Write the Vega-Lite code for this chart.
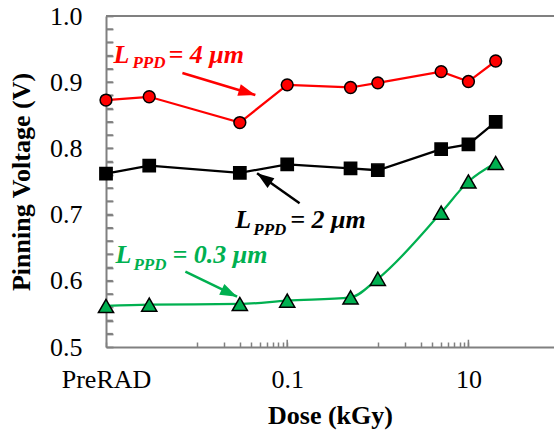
{
  "$schema": "https://vega.github.io/schema/vega-lite/v6.json",
  "width": 448,
  "height": 331,
  "autosize": {"type": "none"},
  "padding": {"left": 106, "top": 16, "right": 0, "bottom": 87},
  "background": "white",
  "config": {
    "view": {"stroke": null},
    "font": "Liberation Serif",
    "axis": {
      "grid": false,
      "labelFlush": false,
      "labelOverlap": false,
      "labelFont": "Liberation Serif",
      "labelFontSize": 26,
      "labelColor": "black",
      "tickColor": "#808080",
      "domainColor": "#808080",
      "domainWidth": 2,
      "titleFont": "Liberation Serif",
      "titleFontSize": 26,
      "titleFontWeight": "bold",
      "titleColor": "black",
      "tickCount": 100
    }
  },
  "datasets": {
    "series": [
      {"dose": 0.001, "v": 0.873, "series": "4"},
      {"dose": 0.003, "v": 0.878, "series": "4"},
      {"dose": 0.03, "v": 0.839, "series": "4"},
      {"dose": 0.1, "v": 0.896, "series": "4"},
      {"dose": 0.5, "v": 0.892, "series": "4"},
      {"dose": 1, "v": 0.899, "series": "4"},
      {"dose": 5, "v": 0.916, "series": "4"},
      {"dose": 10, "v": 0.901, "series": "4"},
      {"dose": 20, "v": 0.932, "series": "4"},
      {"dose": 0.001, "v": 0.762, "series": "2"},
      {"dose": 0.003, "v": 0.774, "series": "2"},
      {"dose": 0.03, "v": 0.763, "series": "2"},
      {"dose": 0.1, "v": 0.776, "series": "2"},
      {"dose": 0.5, "v": 0.770, "series": "2"},
      {"dose": 1, "v": 0.767, "series": "2"},
      {"dose": 5, "v": 0.799, "series": "2"},
      {"dose": 10, "v": 0.806, "series": "2"},
      {"dose": 20, "v": 0.840, "series": "2"},
      {"dose": 0.001, "v": 0.562, "series": "0.3"},
      {"dose": 0.003, "v": 0.564, "series": "0.3"},
      {"dose": 0.03, "v": 0.565, "series": "0.3"},
      {"dose": 0.1, "v": 0.570, "series": "0.3"},
      {"dose": 0.5, "v": 0.575, "series": "0.3"},
      {"dose": 1, "v": 0.603, "series": "0.3"},
      {"dose": 5, "v": 0.703, "series": "0.3"},
      {"dose": 10, "v": 0.750, "series": "0.3"},
      {"dose": 20, "v": 0.778, "series": "0.3"}
    ],
    "labels": [
      {"series": "4", "part": "main", "text": "L", "dose": 0.00121, "v": 0.929},
      {"series": "4", "part": "sub", "text": "PPD", "dose": 0.00196, "v": 0.9215},
      {"series": "4", "part": "main", "text": "= 4 μm", "dose": 0.00489, "v": 0.929},
      {"series": "2", "part": "main", "text": "L", "dose": 0.0267, "v": 0.680},
      {"series": "2", "part": "sub", "text": "PPD", "dose": 0.0423, "v": 0.669},
      {"series": "2", "part": "main", "text": "= 2 μm", "dose": 0.108, "v": 0.680},
      {"series": "0.3", "part": "main", "text": "L", "dose": 0.00127, "v": 0.627},
      {"series": "0.3", "part": "sub", "text": "PPD", "dose": 0.00201, "v": 0.616},
      {"series": "0.3", "part": "main", "text": "= 0.3 μm", "dose": 0.00541, "v": 0.627}
    ],
    "arrows": [
      {"series": "4", "dose": 0.00697, "v": 0.9139, "dose2": 0.0445, "v2": 0.8807},
      {"series": "2", "dose": 0.137, "v": 0.717, "dose2": 0.0465, "v2": 0.7624},
      {"series": "0.3", "dose": 0.00752, "v": 0.6138, "dose2": 0.02797, "v2": 0.576}
    ],
    "majorTicks": [
      {"dose": 0.1},
      {"dose": 10}
    ],
    "yTicks": [
      {"v": 0.52}, {"v": 0.54}, {"v": 0.56}, {"v": 0.58}, {"v": 0.6},
      {"v": 0.62}, {"v": 0.64}, {"v": 0.66}, {"v": 0.68}, {"v": 0.7},
      {"v": 0.72}, {"v": 0.74}, {"v": 0.76}, {"v": 0.78}, {"v": 0.8},
      {"v": 0.82}, {"v": 0.84}, {"v": 0.86}, {"v": 0.88}, {"v": 0.9},
      {"v": 0.92}, {"v": 0.94}, {"v": 0.96}, {"v": 0.98}
    ]
  },
  "layer": [
    {
      "data": {"name": "series"},
      "transform": [{"filter": "datum.series != '0.3'"}],
      "mark": {"type": "line", "strokeWidth": 2.25},
      "encoding": {
        "x": {
          "field": "dose", "type": "quantitative",
          "scale": {"type": "log", "domain": [0.001, 88], "nice": false},
          "axis": {
            "title": "Dose (kGy)",
            "tickCount": 100,
            "values": [0.001, 0.01, 0.02, 0.03, 0.04, 0.05, 0.06, 0.07, 0.08, 0.09, 0.1, 1, 2, 3, 4, 5, 6, 7, 8, 9, 10],
            "labelExpr": "datum.value == 0.001 ? 'PreRAD' : datum.value == 0.1 ? '0.1' : datum.value == 10 ? '10' : ''",
            "ticks": true,
            "tickSize": -5,
            "tickWidth": 1.5,
            "labelPadding": 24,
            "titlePadding": 10
          }
        },
        "y": {
          "field": "v", "type": "quantitative",
          "scale": {"domain": [0.5, 1.0], "zero": false, "nice": false},
          "axis": {
            "title": "Pinning Voltage  (V)",
            "tickCount": 100,
            "values": [0.5, 0.52, 0.54, 0.56, 0.58, 0.6, 0.62, 0.64, 0.66, 0.68, 0.7, 0.72, 0.74, 0.76, 0.78, 0.8, 0.82, 0.84, 0.86, 0.88, 0.9, 0.92, 0.94, 0.96, 0.98, 1.0],
            "labelExpr": "(datum.value == 0.5 || datum.value == 0.6 || datum.value == 0.7 || datum.value == 0.8 || datum.value == 0.9 || datum.value == 1) ? format(datum.value, '.1f') : ''",
            "ticks": true,
            "tickSize": -7,
            "tickWidth": 1.75,
            "labelPadding": 31,
            "titlePadding": 15
          }
        },
        "color": {
          "field": "series", "type": "nominal",
          "scale": {"domain": ["4", "2", "0.3"], "range": ["#ff0000", "#000000", "#00b050"]},
          "legend": null
        }
      }
    },
    {
      "data": {"name": "yTicks"},
      "mark": {"type": "rule", "color": "#808080", "strokeWidth": 1.75},
      "encoding": {
        "y": {"field": "v", "type": "quantitative"},
        "x": {"datum": 0.001, "type": "quantitative"},
        "x2": {"datum": 0.00119}
      }
    },
    {
      "data": {"name": "majorTicks"},
      "mark": {"type": "rule", "color": "#808080", "strokeWidth": 1.5},
      "encoding": {
        "x": {"field": "dose", "type": "quantitative"},
        "y": {"datum": 0.5, "type": "quantitative"},
        "y2": {"datum": 0.511}
      }
    },
    {
      "data": {"name": "series"},
      "transform": [{"filter": "datum.series == '0.3'"}],
      "mark": {"type": "line", "strokeWidth": 2.25, "interpolate": "monotone"},
      "encoding": {
        "x": {"field": "dose", "type": "quantitative"},
        "y": {"field": "v", "type": "quantitative"},
        "color": {"field": "series", "type": "nominal", "legend": null}
      }
    },
    {
      "data": {"name": "series"},
      "transform": [{"filter": "datum.series == '4'"}],
      "mark": {"type": "point", "shape": "circle", "filled": true, "size": 140, "stroke": "black", "strokeWidth": 1.5, "opacity": 1},
      "encoding": {
        "x": {"field": "dose", "type": "quantitative"},
        "y": {"field": "v", "type": "quantitative"},
        "fill": {"field": "series", "type": "nominal", "scale": {"domain": ["4", "2", "0.3"], "range": ["#ff0000", "#000000", "#00b050"]}, "legend": null}
      }
    },
    {
      "data": {"name": "series"},
      "transform": [{"filter": "datum.series == '2'"}],
      "mark": {"type": "point", "shape": "square", "filled": true, "size": 150, "stroke": "black", "strokeWidth": 1.5, "opacity": 1},
      "encoding": {
        "x": {"field": "dose", "type": "quantitative"},
        "y": {"field": "v", "type": "quantitative"},
        "fill": {"field": "series", "type": "nominal", "legend": null}
      }
    },
    {
      "data": {"name": "series"},
      "transform": [{"filter": "datum.series == '0.3'"}],
      "mark": {"type": "point", "shape": "triangle-up", "filled": true, "size": 230, "stroke": "black", "strokeWidth": 1.5, "opacity": 1},
      "encoding": {
        "x": {"field": "dose", "type": "quantitative"},
        "y": {"field": "v", "type": "quantitative"},
        "fill": {"field": "series", "type": "nominal", "legend": null}
      }
    },
    {
      "data": {"name": "arrows"},
      "mark": {"type": "rule", "strokeWidth": 2.5},
      "encoding": {
        "x": {"field": "dose", "type": "quantitative"},
        "y": {"field": "v", "type": "quantitative"},
        "x2": {"field": "dose2"},
        "y2": {"field": "v2"},
        "color": {"field": "series", "type": "nominal", "legend": null}
      }
    },
    {
      "data": {"name": "arrows"},
      "transform": [{"filter": "datum.series == '4'"}],
      "mark": {"type": "point", "shape": "M0,0L-2,-0.7L-2,0.7Z", "filled": true, "size": 289, "angle": 16.8, "opacity": 1},
      "encoding": {
        "x": {"field": "dose2", "type": "quantitative"},
        "y": {"field": "v2", "type": "quantitative"},
        "color": {"field": "series", "type": "nominal", "legend": null}
      }
    },
    {
      "data": {"name": "arrows"},
      "transform": [{"filter": "datum.series == '2'"}],
      "mark": {"type": "point", "shape": "M0,0L-2,-0.7L-2,0.7Z", "filled": true, "size": 289, "angle": 215.2, "opacity": 1},
      "encoding": {
        "x": {"field": "dose2", "type": "quantitative"},
        "y": {"field": "v2", "type": "quantitative"},
        "color": {"field": "series", "type": "nominal", "legend": null}
      }
    },
    {
      "data": {"name": "arrows"},
      "transform": [{"filter": "datum.series == '0.3'"}],
      "mark": {"type": "point", "shape": "M0,0L-2,-0.7L-2,0.7Z", "filled": true, "size": 289, "angle": 25.8, "opacity": 1},
      "encoding": {
        "x": {"field": "dose2", "type": "quantitative"},
        "y": {"field": "v2", "type": "quantitative"},
        "color": {"field": "series", "type": "nominal", "legend": null}
      }
    },
    {
      "data": {"name": "labels"},
      "transform": [{"filter": "datum.part == 'main'"}],
      "mark": {"type": "text", "align": "left", "baseline": "alphabetic", "font": "Liberation Serif", "fontStyle": "italic", "fontWeight": "bold", "fontSize": 26},
      "encoding": {
        "x": {"field": "dose", "type": "quantitative"},
        "y": {"field": "v", "type": "quantitative"},
        "text": {"field": "text"},
        "color": {"field": "series", "type": "nominal", "legend": null}
      }
    },
    {
      "data": {"name": "labels"},
      "transform": [{"filter": "datum.part == 'sub'"}],
      "mark": {"type": "text", "align": "left", "baseline": "alphabetic", "font": "Liberation Serif", "fontStyle": "italic", "fontWeight": "bold", "fontSize": 17},
      "encoding": {
        "x": {"field": "dose", "type": "quantitative"},
        "y": {"field": "v", "type": "quantitative"},
        "text": {"field": "text"},
        "color": {"field": "series", "type": "nominal", "legend": null}
      }
    },
    {
      "data": {"values": [{}]},
      "mark": {"type": "rule", "color": "#808080", "strokeWidth": 2},
      "encoding": {"y": {"datum": 1.0, "type": "quantitative"}}
    }
  ]
}
